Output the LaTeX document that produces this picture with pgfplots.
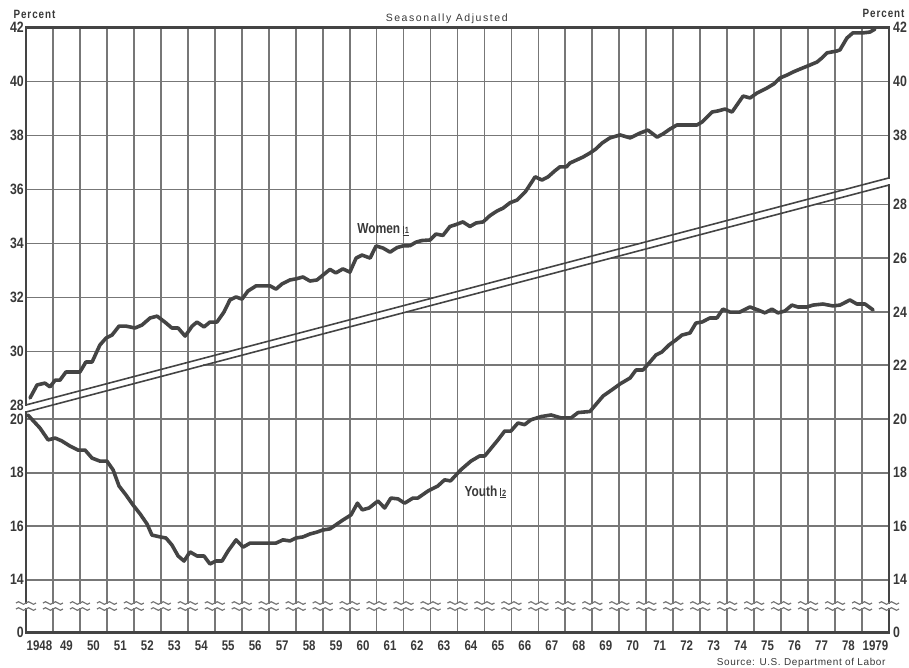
\documentclass[border=0pt]{standalone}
\usepackage{pgfplots}
\pgfplotsset{compat=1.18}
\usepackage{fontspec}
\setmainfont{Liberation Sans}
\newfontfamily\cond{Liberation Sans}[FakeStretch=0.82]

\definecolor{ink}{HTML}{444444}
\definecolor{gridc}{HTML}{777777}
\definecolor{txt}{HTML}{383838}

% footnote mark next to series names
\newcommand\fnmark[1]{\kern3pt{\fontsize{9}{9}\selectfont\underline{\vrule width 0.6pt height 8pt depth 0pt\kern1.2pt #1}}}

\tikzset{
  gl/.style={gridc, line width=1.8pt},
  frame/.style={ink, line width=2.2pt, line cap=rect},
  band/.style={ink, line width=1.6pt},
  series/.style={ink, line width=3.6pt, line join=round, line cap=round},
}

\pgfplotsset{
  base/.style={
    scale only axis, width=863pt, height=605pt,
    at={(0,0)}, anchor=south west,
    xmin=1948, xmax=1980,
    axis line style={draw=none},
    major tick length=0pt, minor tick length=0pt,
    clip=false,
    tick label style={font=\cond\bfseries\fontsize{15}{15}\selectfont, text=txt, inner sep=0pt},
    /pgf/number format/assume math mode=true,
    xtick=\empty,
  },
  women/.style={base, ymin=19.593, ymax=42},
  youth/.style={base, ymin=12.034, ymax=34.608},
}

% women, percent of labor force (left scale)
\pgfplotstableread{
year women
1948.15 28.28
1948.41 28.76
1948.70 28.83
1948.89 28.69
1949.08 28.94
1949.26 28.94
1949.48 29.24
1949.82 29.24
1950.00 29.24
1950.22 29.61
1950.45 29.61
1950.74 30.24
1950.97 30.50
1951.19 30.61
1951.45 30.94
1951.71 30.94
1952.04 30.87
1952.30 30.98
1952.60 31.24
1952.86 31.31
1953.15 31.09
1953.41 30.87
1953.64 30.87
1953.90 30.57
1954.16 30.94
1954.34 31.09
1954.60 30.91
1954.82 31.09
1955.08 31.09
1955.34 31.46
1955.56 31.91
1955.79 32.02
1956.01 31.94
1956.23 32.24
1956.53 32.43
1956.79 32.43
1957.05 32.43
1957.27 32.31
1957.49 32.50
1957.79 32.65
1958.01 32.69
1958.27 32.76
1958.53 32.61
1958.79 32.65
1959.01 32.83
1959.27 33.04
1959.49 32.91
1959.75 33.06
1960.01 32.94
1960.24 33.46
1960.46 33.57
1960.76 33.46
1960.98 33.91
1961.24 33.83
1961.50 33.68
1961.76 33.85
1961.98 33.91
1962.24 33.92
1962.46 34.05
1962.68 34.11
1962.98 34.13
1963.20 34.35
1963.46 34.30
1963.72 34.63
1963.94 34.70
1964.20 34.80
1964.46 34.63
1964.69 34.76
1964.95 34.80
1965.20 35.03
1965.46 35.20
1965.69 35.31
1965.95 35.51
1966.21 35.61
1966.52 35.92
1966.88 36.47
1967.13 36.35
1967.36 36.47
1967.62 36.70
1967.80 36.84
1968.04 36.84
1968.17 36.98
1968.41 37.09
1968.65 37.20
1968.91 37.35
1969.13 37.50
1969.36 37.72
1969.65 37.91
1970.03 38.02
1970.40 37.91
1970.77 38.09
1971.06 38.20
1971.40 37.94
1971.62 38.06
1971.88 38.24
1972.14 38.39
1972.40 38.39
1972.62 38.39
1972.88 38.39
1973.07 38.50
1973.44 38.87
1973.66 38.91
1973.92 38.98
1974.18 38.87
1974.59 39.46
1974.85 39.39
1975.10 39.57
1975.48 39.76
1975.73 39.91
1975.96 40.13
1976.22 40.24
1976.44 40.35
1976.70 40.46
1977.07 40.61
1977.33 40.72
1977.51 40.87
1977.70 41.06
1978.07 41.13
1978.18 41.17
1978.44 41.61
1978.66 41.80
1979.03 41.80
1979.29 41.83
1979.48 41.94
}\women

% youth, percent of labor force (right scale)
\pgfplotstableread{
year youth
1948.07 20.15
1948.52 19.66
1948.82 19.22
1949.08 19.29
1949.33 19.18
1949.63 18.99
1949.93 18.84
1950.19 18.84
1950.45 18.54
1950.74 18.43
1951.00 18.43
1951.23 18.10
1951.45 17.50
1951.71 17.16
1951.97 16.79
1952.23 16.46
1952.49 16.08
1952.67 15.67
1952.97 15.60
1953.19 15.56
1953.41 15.30
1953.64 14.89
1953.86 14.70
1954.08 15.04
1954.34 14.89
1954.60 14.89
1954.82 14.59
1955.04 14.70
1955.27 14.70
1955.49 15.07
1955.79 15.49
1956.05 15.22
1956.31 15.37
1956.53 15.37
1956.79 15.37
1957.05 15.37
1957.27 15.37
1957.53 15.49
1957.79 15.45
1958.01 15.56
1958.27 15.60
1958.53 15.71
1958.79 15.78
1959.01 15.86
1959.27 15.90
1959.75 16.23
1960.05 16.42
1960.29 16.86
1960.47 16.61
1960.72 16.68
1961.05 16.94
1961.30 16.68
1961.53 17.05
1961.79 17.02
1962.04 16.86
1962.35 17.05
1962.53 17.05
1962.90 17.31
1963.27 17.50
1963.52 17.73
1963.74 17.69
1964.13 18.11
1964.50 18.43
1964.82 18.62
1965.01 18.62
1965.50 19.22
1965.75 19.55
1965.98 19.55
1966.24 19.85
1966.49 19.79
1966.72 19.97
1967.10 20.09
1967.47 20.15
1967.84 20.04
1968.21 20.04
1968.47 20.24
1968.91 20.28
1969.40 20.86
1969.77 21.12
1970.03 21.31
1970.40 21.53
1970.62 21.83
1970.88 21.83
1971.14 22.13
1971.36 22.39
1971.58 22.50
1971.84 22.76
1972.10 22.95
1972.32 23.13
1972.62 23.21
1972.84 23.58
1973.07 23.62
1973.36 23.77
1973.62 23.77
1973.84 24.10
1974.10 23.99
1974.47 23.99
1974.84 24.18
1975.14 24.07
1975.40 23.96
1975.66 24.10
1975.88 23.96
1976.14 24.03
1976.40 24.25
1976.62 24.18
1976.96 24.18
1977.18 24.25
1977.55 24.29
1977.92 24.22
1978.18 24.25
1978.55 24.44
1978.81 24.29
1979.11 24.29
1979.41 24.07
}\youth

\begin{document}
\begin{tikzpicture}

% upper panel: women (left scale 28-42)
\begin{axis}[women,
    ytick={28,30,...,42}, yticklabel pos=left, yticklabel shift=2pt,
    xtick={1948.5,1949.5,...,1979.5},
    xticklabels={1948,49,50,51,52,53,54,55,56,57,58,59,60,61,62,63,64,65,66,67,68,69,70,71,72,73,74,75,76,77,78,1979},
    xticklabel shift=8pt,
    x tick label style={font=\cond\bfseries\fontsize{14}{14}\selectfont}]
  % one vertical rule per year
  \pgfplotsinvokeforeach{1949,1950,...,1979}{
    \draw[gl] (axis cs:#1,19.593) -- (axis cs:#1,42);
  }
  % women grid stops at the band
  \draw[gl] (axis cs:1948,40) -- (axis cs:1980,40);
  \draw[gl] (axis cs:1948,38) -- (axis cs:1980,38);
  \draw[gl] (axis cs:1948,36) -- (axis cs:1978.36,36);
  \draw[gl] (axis cs:1948,34) -- (axis cs:1970.75,34);
  \draw[gl] (axis cs:1948,32) -- (axis cs:1963.14,32);
  \draw[gl] (axis cs:1948,30) -- (axis cs:1955.53,30);
  \draw[frame] (axis cs:1948,28.02) -- (axis cs:1948,42) -- (axis cs:1980,42) -- (axis cs:1980,36.43);
  \draw[band] (axis cs:1948,28.02) -- (axis cs:1980,36.43);
  \addplot[series] table[x=year, y=women] {\women};
  \node[anchor=west, text=txt, font=\cond\bfseries\fontsize{12}{12}\selectfont\addfontfeature{LetterSpace=8}]
    at ([xshift=-16pt, yshift=13.5pt]axis cs:1948,42) {Percent};
  \node[anchor=east, text=txt, font=\cond\bfseries\fontsize{12}{12}\selectfont\addfontfeature{LetterSpace=8}]
    at ([xshift=19pt, yshift=14pt]axis cs:1980,42) {Percent};
  \node[text=txt, font=\fontsize{10.5}{10.5}\selectfont\addfontfeature{LetterSpace=15}]
    at ([yshift=8.5pt]axis cs:1963.6,42) {Seasonally Adjusted};
  \node[anchor=west, text=txt, font=\cond\bfseries\fontsize{14.5}{14.5}\selectfont]
    at (axis cs:1960.16,34.5) {Women\fnmark{1}};
\end{axis}

% upper panel, right scale
\begin{axis}[women, ytick={38,40,42}, yticklabel pos=right, yticklabel shift=4pt]
\end{axis}

% lower panel: youth (scale 14-28)
\begin{axis}[youth,
    ytick={14,16,18,20}, yticklabel pos=left, yticklabel shift=2pt,
    extra y ticks={12.034}, extra y tick labels={0}]
  \draw[gl] (axis cs:1977.24,28) -- (axis cs:1980,28);
  \draw[gl] (axis cs:1969.69,26) -- (axis cs:1980,26);
  \draw[gl] (axis cs:1962.13,24) -- (axis cs:1980,24);
  \draw[gl] (axis cs:1954.57,22) -- (axis cs:1980,22);
  \draw[gl] (axis cs:1948,20) -- (axis cs:1980,20);
  \draw[gl] (axis cs:1948,18) -- (axis cs:1980,18);
  \draw[gl] (axis cs:1948,16) -- (axis cs:1980,16);
  \draw[gl] (axis cs:1948,14) -- (axis cs:1980,14);
  \draw[frame] (axis cs:1948,20.26) -- (axis cs:1948,12.034) -- (axis cs:1980,12.034) -- (axis cs:1980,28.73);
  \draw[band] (axis cs:1948,20.26) -- (axis cs:1980,28.73);
  % scale break
  \fill[white] (axis cs:1947.4,12.95) rectangle (axis cs:1980.6,13.10);
  \pgfplotsinvokeforeach{1948,1949,...,1980}{
    \draw[gridc, line width=1.2pt] ([xshift=-10pt]axis cs:#1,13.134)
      sin ++(2.5pt,1.3pt) cos ++(2.5pt,-1.3pt) sin ++(2.5pt,-1.3pt) cos ++(2.5pt,1.3pt)
      sin ++(2.5pt,1.3pt) cos ++(2.5pt,-1.3pt) sin ++(2.5pt,-1.3pt) cos ++(2.5pt,1.3pt);
    \draw[gridc, line width=1.2pt] ([xshift=-10pt]axis cs:#1,12.91)
      sin ++(2.5pt,1.3pt) cos ++(2.5pt,-1.3pt) sin ++(2.5pt,-1.3pt) cos ++(2.5pt,1.3pt)
      sin ++(2.5pt,1.3pt) cos ++(2.5pt,-1.3pt) sin ++(2.5pt,-1.3pt) cos ++(2.5pt,1.3pt);
  }
  \addplot[series] table[x=year, y=youth] {\youth};
  \node[anchor=west, text=txt, font=\cond\bfseries\fontsize{14.5}{14.5}\selectfont]
    at (axis cs:1964.13,17.28) {Youth\fnmark{2}};
  \node[anchor=east, text=txt, font=\fontsize{10}{10}\selectfont\addfontfeature{LetterSpace=6}]
    at ([yshift=-30.5pt]axis cs:1980,12.034) {Source: U.S. Department of Labor};
\end{axis}

% lower panel, right scale
\begin{axis}[youth, ytick={14,16,...,28}, yticklabel pos=right, yticklabel shift=4pt,
    extra y ticks={12.034}, extra y tick labels={0}]
\end{axis}

\pgfresetboundingbox
\useasboundingbox (-26pt,-35.5pt) rectangle (883pt,632.5pt);
\end{tikzpicture}
\end{document}
